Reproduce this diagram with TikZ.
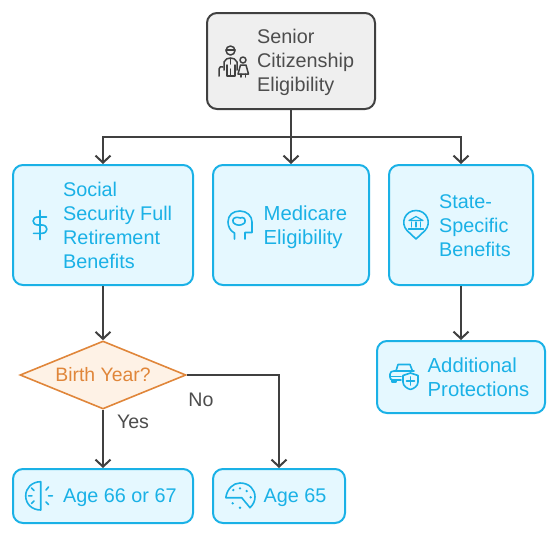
\documentclass[tikz,border=0pt]{standalone}
\usepackage{fontspec}
\setmainfont{Liberation Sans}
\usetikzlibrary{arrows.meta,shapes.geometric}
\definecolor{bluel}{HTML}{1AB1E6}
\definecolor{bluef}{HTML}{E5F8FF}
\definecolor{darkl}{HTML}{404040}
\definecolor{greyf}{HTML}{EFEFEF}
\definecolor{orangel}{HTML}{E0863A}
\definecolor{orangef}{HTML}{FEF2E6}
\definecolor{greyt}{HTML}{4D4D4D}
\tikzset{
  x=1pt,y=-1pt,
  boxblue/.style={draw=bluel,fill=bluef,line width=2pt,rounded corners=10pt,inner sep=0pt},
  boxgrey/.style={draw=darkl,fill=greyf,line width=2pt,rounded corners=10pt,inner sep=0pt},
  dia/.style={diamond,aspect=2.44,draw=orangel,fill=orangef,line width=1.6pt,inner sep=0pt,text=orangel,font=\fontsize{19.4}{24}\selectfont},
  lbl/.style={anchor=west,align=left,inner sep=0pt,font=\fontsize{19.8}{24}\selectfont,text=bluel},
  lblw/.style={lbl,font=\fontsize{20.3}{24}\selectfont},
  lblg/.style={lbl,text=greyt},
  edgelbl/.style={inner sep=0pt,font=\fontsize{19.6}{24}\selectfont,text=greyt},
  conn/.style={draw=darkl,line width=2pt,-{Straight Barb[length=7pt,width=15pt,line width=2pt]}},
  connp/.style={draw=darkl,line width=2pt},
  ico/.style={draw=bluel,line width=1.6pt,line cap=round,line join=round,fill=none},
  icog/.style={draw=darkl,line width=1.5pt,line cap=round,line join=round,fill=none},
  dotb/.style={fill=bluel,draw=none}
}
\begin{document}
\begin{tikzpicture}
\useasboundingbox (0,0) rectangle (558,536);
\node[boxgrey,minimum width=168pt,minimum height=96pt] (top) at (291,61) {};
\node[boxblue,minimum width=180pt,minimum height=120pt] (social) at (103,225) {};
\node[boxblue,minimum width=156pt,minimum height=120pt] (medicare) at (291,225) {};
\node[boxblue,minimum width=144pt,minimum height=120pt] (state) at (461,225) {};
\node[boxblue,minimum width=168pt,minimum height=72pt] (addl) at (461,377) {};
\node[dia,minimum width=166pt,minimum height=68pt] (birth) at (103,375) {Birth Year?};
\node[boxblue,minimum width=180pt,minimum height=54pt] (a66) at (103,496) {};
\node[boxblue,minimum width=132pt,minimum height=54pt] (a65) at (279,496) {};
\node[lblg] (ttop) at (257,62.5) {Senior\\Citizenship\\Eligibility};
\node[lbl] (tsocial) at (63,225) {Social\\Security Full\\Retirement\\Benefits};
\node[lblw] (tmed) at (263.5,227.5) {Medicare\\Eligibility};
\node[lbl] (tstate) at (439,226) {State-\\Specific\\Benefits};
\node[lblw] (taddl) at (427.5,377.5) {Additional\\Protections};
\node[lbl] (t66) at (63,498) {Age 66 or 67};
\node[lbl] (t65) at (263.5,498) {Age 65};
\node[edgelbl] (yes) at (133,422) {Yes};
\node[edgelbl] (no) at (201,399.5) {No};
\coordinate (split) at (top.south|-0,137);
\draw[connp] (top.south) -- (split);
\draw[conn] (split) -| (social.north);
\draw[conn] (split) -- (medicare.north);
\draw[conn] (split) -| (state.north);
\draw[conn] (social.south) -- (birth.north);
\draw[conn] (state.south) -- (addl.north);
\draw[conn] (birth.south) -- (a66.north);
\draw[conn] (birth.east) -| (a65.north);
% people
\draw[icog] (230.5,50.5) circle (4.5);
\draw[icog] (226,50) -- (235,50);
\draw[icog] (219,76) -- (219,69) .. controls (219,67) and (221,66) .. (223,67);
\draw[icog] (224,70) -- (224,62) .. controls (225,59) and (228,58) .. (230.5,58) .. controls (233,58) and (236,59) .. (237,62) -- (237,70);
\draw[icog] (227,65) -- (227,76) -- (230.5,76) -- (230.5,69) -- (230.5,76) -- (235,76) -- (235,65);
\draw[icog] (230.5,58) -- (230.5,64);
\draw[icog] (243,60) circle (3);
\draw[icog] (240.5,65) -- (238,74) -- (248.5,74) -- (246,65) -- cycle;
\draw[icog] (241,74) -- (241,77);
\draw[icog] (245.5,74) -- (245.5,77);
% dollar
\draw[ico] (46.5,217) -- (38,217) .. controls (31.5,217) and (31.5,225) .. (38,225) -- (42,225) .. controls (48.5,225) and (48.5,233.3) .. (42,233.3) -- (33.5,233.3);
\draw[ico] (40,210.5) -- (40,239.5);
% head
\draw[ico] (234.5,239) -- (234.5,233) .. controls (230,231) and (228,226) .. (228,222) .. controls (228,215) and (233,211) .. (240,211) .. controls (247,211) and (252,216) .. (252,222) -- (252,232.5) -- (245,232.5) -- (245,239);
\draw[ico] (235,224) .. controls (232,223) and (232,217.5) .. (236,217.5) .. controls (237,216.5) and (241,219) .. (242,217.5) .. controls (246,217) and (246,224) .. (243,224) .. controls (241,225.5) and (237,225.5) .. (235,224) -- cycle;
% pin with bank
\draw[ico] (416,239) -- (407,230.5) .. controls (400,223) and (405,210.5) .. (416,210.5) .. controls (427,210.5) and (432,223) .. (425,230.5) -- cycle;
\draw[ico,line width=1.2pt] (416,216.5) -- (409,220.5) -- (423,220.5) -- cycle;
\draw[ico,line width=1.2pt] (411.5,222) -- (411.5,227) (416,222) -- (416,227) (420.5,222) -- (420.5,227) (408.5,229) -- (423.5,229);
% car with shield
\draw[ico] (396,371) -- (398,364.5) -- (410,364.5) -- (412.5,371);
\draw[ico] (401,380) -- (393,380) .. controls (391,380) and (390,379) .. (390,377) -- (390,374) .. controls (390,372) and (392,371) .. (394,371) -- (414,371);
\draw[ico] (390,376.5) -- (401,376.5);
\draw[ico] (392,380) -- (392,382) -- (396,382) -- (396,380);
\draw[ico] (410.5,373) -- (418,375.5) -- (418,382) .. controls (418,386) and (414,388.5) .. (410.5,389.5) .. controls (407,388.5) and (403,386) .. (403,382) -- (403,375.5) -- cycle;
\draw[ico] (410.5,377) -- (410.5,385) (406.5,381) -- (414.5,381);
% half clock
\draw[ico] (40.7,481.7) .. controls (32,481.7) and (25.7,488) .. (25.7,495.8) .. controls (25.7,504) and (32,510) .. (40.7,510) -- cycle;
\draw[ico] (28.5,495.8) -- (32,495.8) (31.5,488) -- (34,490.5) (31.5,503.5) -- (34,501);
\draw[ico] (48.5,487) -- (46,490) (48.5,495.8) -- (52.5,495.8) (46,502) -- (48.5,504.5);
% palette-clock
\draw[ico] (241.7,497.7) -- (225.8,497.7) .. controls (227,489) and (233,483) .. (240,483) .. controls (249,483) and (255,489) .. (255,497) .. controls (255,501) and (253,505) .. (250,507.7) -- cycle;
\fill[dotb] (233.3,490) circle (1.3) (240,488.3) circle (1.3) (246.7,491) circle (1.3) (250.7,497.3) circle (1.3) (232.7,503.3) circle (1.3) (240,507.7) circle (1.3);
\end{tikzpicture}
\end{document}
